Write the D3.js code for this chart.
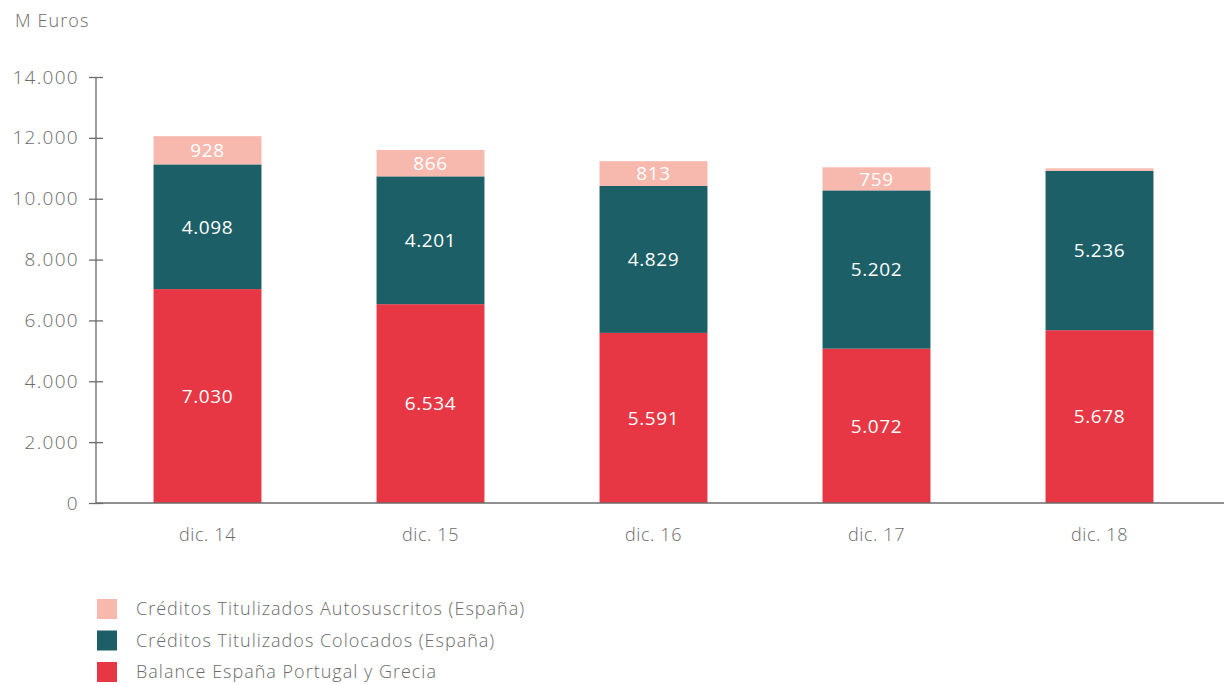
<!DOCTYPE html>
<html>
<head>
<meta charset="utf-8">
<script src="https://cdn.jsdelivr.net/npm/d3@7"></script>
<style>
  html, body { margin: 0; padding: 0; background: #fff; }
  svg text { font-family: "Open Sans", sans-serif; font-weight: 300; letter-spacing: 0.6px; }
</style>
</head>
<body>
<svg id="chart" width="1224" height="685"></svg>
<script>
// Years on the x axis
const categories = ["dic. 14", "dic. 15", "dic. 16", "dic. 17", "dic. 18"];
// Stacked series, bottom to top (M Euros)
const balance = [7030, 6534, 5591, 5072, 5678];
const colocados = [4098, 4201, 4829, 5202, 5236];
const autosuscritos = [928, 866, 813, 759, 85];
// Value labels (null = not labelled)
const labelAutosuscritos = ["928", "866", "813", "759", null];
const labelColocados = ["4.098", "4.201", "4.829", "5.202", "5.236"];
const labelBalance = ["7.030", "6.534", "5.591", "5.072", "5.678"];
const yTicks = [0, 2000, 4000, 6000, 8000, 10000, 12000, 14000];
const legendNames = [
  "Créditos Titulizados Autosuscritos (España)",
  "Créditos Titulizados Colocados (España)",
  "Balance España Portugal y Grecia"
];

const colors = { balance: "#E73744", colocados: "#1C5F66", autosuscritos: "#F7B9AE" };
const textGray = "#6b6b6b";

const svg = d3.select("#chart");
const fmt = d3.formatLocale({ decimal: ",", thousands: ".", grouping: [3], currency: ["", "€"] }).format(",");

const x = d3.scaleBand().domain(categories).range([96, 1211]).paddingInner(0.516).paddingOuter(0.258);
const y = d3.scaleLinear().domain([0, 14000]).range([503, 77]);

const rows = categories.map((c, i) => ({
  cat: c, balance: balance[i], colocados: colocados[i], autosuscritos: autosuscritos[i],
  labels: { balance: labelBalance[i], colocados: labelColocados[i], autosuscritos: labelAutosuscritos[i] }
}));
const keys = ["balance", "colocados", "autosuscritos"];
const stacked = d3.stack().keys(keys)(rows);

// Bars
const layers = svg.append("g").selectAll("g").data(stacked).join("g")
  .attr("fill", d => colors[d.key]);
layers.selectAll("rect").data(d => d.map(v => Object.assign(v, { key: d.key }))).join("rect")
  .attr("x", d => x(d.data.cat))
  .attr("width", x.bandwidth())
  .attr("y", d => y(d[1]))
  .attr("height", d => y(d[0]) - y(d[1]));

// Value labels inside segments
layers.selectAll("text").data(d => d.filter(v => v.data.labels[d.key] !== null)).join("text")
  .attr("x", d => x(d.data.cat) + x.bandwidth() / 2)
  .attr("y", d => (y(d[0]) + y(d[1])) / 2)
  .attr("dy", "0.36em")
  .attr("text-anchor", "middle")
  .attr("fill", "#fff")
  .attr("font-size", 19)
  .style("font-weight", 400)
  .text(d => d.data.labels[d.key]);

// Y axis
const yAxis = svg.append("g").attr("transform", "translate(96,0)")
  .call(d3.axisLeft(y).tickValues(yTicks).tickFormat(d => fmt(d)).tickSize(7).tickPadding(10));
yAxis.select(".domain").remove();
yAxis.selectAll(".tick line").attr("x2", 7).attr("x1", -7).attr("stroke", textGray).attr("stroke-width", 1.3);
yAxis.selectAll(".tick text").attr("fill", textGray).attr("font-size", 19).attr("font-family", null)
  .style("letter-spacing", "1.3px");
yAxis.append("line").attr("y1", y(0)).attr("y2", y(14000)).attr("stroke", textGray).attr("stroke-width", 1.3);

// Baseline
svg.append("line").attr("x1", 96).attr("x2", 1224).attr("y1", y(0)).attr("y2", y(0))
  .attr("stroke", textGray).attr("stroke-width", 1.3);

// X labels
svg.append("g").selectAll("text").data(categories).join("text")
  .attr("x", d => x(d) + x.bandwidth() / 2)
  .attr("y", 541)
  .attr("text-anchor", "middle")
  .attr("fill", textGray)
  .attr("font-size", 18)
  .text(d => d);

// Unit label
svg.append("text").attr("x", 15).attr("y", 27).attr("fill", textGray).attr("font-size", 18)
  .style("letter-spacing", "1.1px").text("M Euros");

// Legend
const legendColors = [colors.autosuscritos, colors.colocados, colors.balance];
const lg = svg.append("g").selectAll("g").data(legendNames).join("g")
  .attr("transform", (d, i) => `translate(97,${599 + i * 31.5})`);
lg.append("rect").attr("width", 20).attr("height", 20).attr("fill", (d, i) => legendColors[i]);
lg.append("text").attr("x", 39).attr("y", 10).attr("dy", "0.36em")
  .attr("fill", textGray).attr("font-size", 18).style("letter-spacing", "1px").text(d => d);
</script>
</body>
</html>
